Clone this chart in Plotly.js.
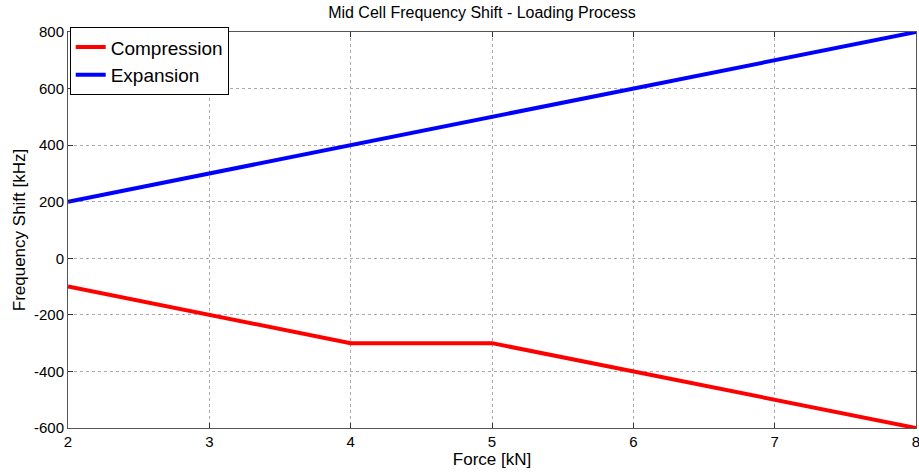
<!DOCTYPE html>
<html><head><meta charset="utf-8">
<script src="https://cdn.plot.ly/plotly-3.0.1.min.js"></script>
<style>body{margin:0;padding:0;background:#fff}#c{width:919px;height:473px}</style>
</head><body><div id="c"></div>
<script>
const force = [2, 3, 4, 5, 6, 7, 8];
const compression = [-100, -200, -300, -300, -400, -500, -600];
const expansion = [200, 300, 400, 500, 600, 700, 800];
const xTicks = [2, 3, 4, 5, 6, 7, 8];
const yTicks = [-600, -400, -200, 0, 200, 400, 600, 800];

const font = 'Liberation Sans, Arial, sans-serif';
const traces = [
  {x: force, y: compression, name: 'Compression', mode: 'lines', line: {color: '#ff0000', width: 4}},
  {x: force, y: expansion, name: 'Expansion', mode: 'lines', line: {color: '#0000ff', width: 4}}
];
const axisCommon = {
  showline: true, linecolor: '#555', linewidth: 1, mirror: 'ticks',
  ticks: 'inside', ticklen: 5, tickcolor: '#333', tickwidth: 1,
  showgrid: true, gridcolor: '#aaa', griddash: 'dot', gridwidth: 1,
  zeroline: false, ticklabeloverflow: 'allow',
  tickfont: {family: font, size: 15, color: '#000'}
};
const layout = {
  width: 919, height: 473,
  margin: {l: 68, r: 3, t: 32, b: 45},
  paper_bgcolor: '#fff', plot_bgcolor: '#fff',
  title: {text: 'Mid Cell Frequency Shift - Loading Process', font: {family: font, size: 16, color: '#000'},
    x: 482 / 919, xanchor: 'center', xref: 'container', y: 0.985, yanchor: 'top'},
  xaxis: Object.assign({}, axisCommon, {range: [2, 8], tickvals: xTicks, ticktext: xTicks.map(String),
    title: {text: 'Force [kN]', font: {family: font, size: 17, color: '#000'}, standoff: 2}}),
  yaxis: Object.assign({}, axisCommon, {range: [-600, 800], tickvals: yTicks, ticktext: yTicks.map(String),
    title: {text: 'Frequency Shift [kHz]', font: {family: font, size: 17, color: '#000'}, standoff: 4}}),
  showlegend: true,
  legend: {x: 0.002, y: 1.012, xanchor: 'left', yanchor: 'top', bgcolor: '#fff', bordercolor: '#000', borderwidth: 1,
    font: {family: font, size: 19, color: '#000'}, tracegroupgap: 0, entrywidth: 168}
};
Plotly.newPlot('c', traces, layout, {displayModeBar: false, staticPlot: true});
</script>
</body></html>
